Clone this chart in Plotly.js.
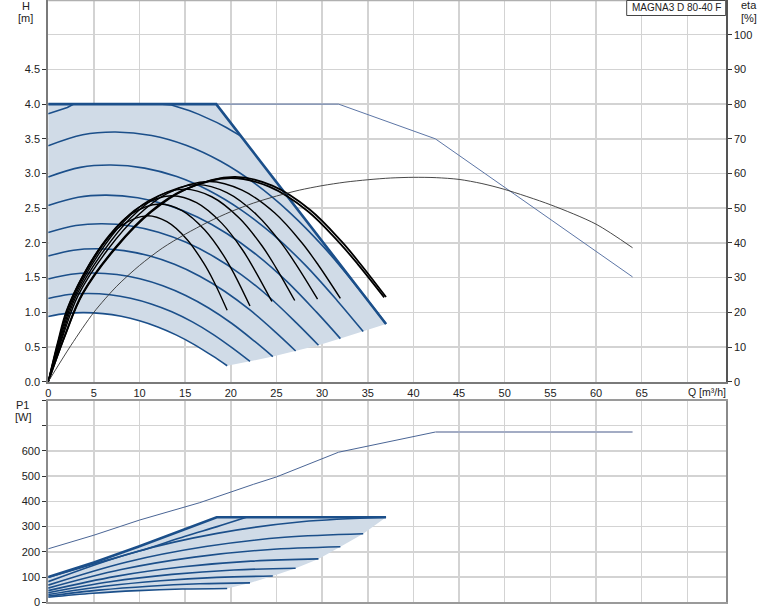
<!DOCTYPE html>
<html><head><meta charset="utf-8">
<script src="https://cdn.plot.ly/plotly-3.0.1.min.js"></script>
<style>html,body{margin:0;padding:0;background:#fff}#chart{width:774px;height:611px}</style>
</head><body><div id="chart"></div>
<script>
// ---------- axis ticks ----------
const xTicks = [0,5,10,15,20,25,30,35,40,45,50,55,60,65,70];
const xTickText = ['0','5','10','15','20','25','30','35','40','45','50','55','60','65',''];
const hTicks = [0,0.5,1,1.5,2,2.5,3,3.5,4,4.5];
const hTickText = ['0.0','0.5','1.0','1.5','2.0','2.5','3.0','3.5','4.0','4.5'];
const etaTicks = [0,10,20,30,40,50,60,70,80,90,100];
const pTicks = [0,100,200,300,400,500,600,700,800];
const pTickText = ['0','100','200','300','400','500','600','',''];

// ---------- H(Q) ----------
const envQ = [0, 18.4, 37.0];
const envH = [4.0, 4.0, 0.832];
const maxLineQ = [0, 31.8, 42.4, 64.0];
const maxLineH = [4.0, 4.0, 3.5, 1.51];

const speedQ = [
 [0,2,3.9,6,8,10,12,14,16,18,19.6],
 [0,2.26,4.4,6.77,9.02,11.28,13.54,15.79,18.05,20.3,22.1],
 [0,2.51,4.89,7.53,10.04,12.55,15.06,17.57,20.08,22.59,24.6],
 [0,2.77,5.39,8.3,11.06,13.83,16.6,19.36,22.13,24.89,27.1],
 [0,3.02,5.89,9.06,12.08,15.1,18.12,21.14,24.16,27.18,29.6],
 [0,3.27,6.37,9.8,13.06,16.33,19.6,22.86,26.13,29.39,32.0],
 [0,3.52,6.86,10.56,14.08,17.6,21.12,24.64,28.16,31.68,34.5],
 [0,3.78,7.36,11.33,15.1,18.88,22.66,26.43,30.21,33.98,37.0]
];
const speedH = [
 [0.94,0.984,0.995,0.981,0.942,0.878,0.789,0.675,0.535,0.371,0.23],
 [1.20,1.257,1.271,1.253,1.203,1.121,1.008,0.862,0.683,0.474,0.294],
 [1.48,1.549,1.566,1.544,1.483,1.382,1.242,1.062,0.842,0.584,0.362],
 [1.81,1.895,1.916,1.889,1.814,1.691,1.520,1.300,1.030,0.715,0.443],
 [2.15,2.250,2.276,2.244,2.154,2.008,1.804,1.544,1.224,0.848,0.526],
 [2.54,2.659,2.688,2.651,2.545,2.372,2.132,1.824,1.446,1.002,0.621],
 [2.95,3.088,3.122,3.078,2.956,2.755,2.476,2.118,1.679,1.164,0.722],
 [3.40,3.559,3.599,3.548,3.407,3.176,2.854,2.441,1.935,1.342,0.832]
];
const topSpeedQ = [0,0.7,1.4,2.1,2.8,12.5,13.5,14.5,15.5,16.5,17.5,18.5,19.5,20.3,21.2];
const topSpeedH = [3.86,3.89,3.92,3.95,4.0,4.0,3.987,3.949,3.905,3.852,3.797,3.733,3.663,3.601,3.531];

// ---------- eta(Q) ----------
const etaMaxQ = [0,2.5,5,7.5,10,12.5,15,17.5,20,22.5,25,27.5,30,32.5,35,37.5,40,42.5,45,47.5,50,55,60,64];
const etaMaxV = [0,10.5,20,27.5,33.5,38.5,42.5,46,49,51.5,53.5,55.2,56.5,57.5,58.2,58.7,58.9,58.8,58.3,57.1,55.4,51.0,45.4,38.6];
const effQ = [
 [0,1,2,4,6,8,10.8,13,15.2,17,18.1,19.6],
 [0,1.13,2.26,4.51,6.77,9.02,12.18,14.66,17.15,19.18,20.42,22.1],
 [0,1.25,2.5,5,7.5,10,13.5,16.25,19,21.25,22.63,24.5],
 [0,1.38,2.76,5.51,8.27,11.02,14.88,17.91,20.95,23.43,24.94,27.0],
 [0,1.51,3.01,6.02,9.03,12.04,16.25,19.57,22.88,25.59,27.24,29.5],
 [0,1.63,3.27,6.53,9.8,13.06,17.64,21.23,24.82,27.76,29.56,32.0],
 [0,1.85,3.7,7.4,11.1,14.8,20.0,24.2,28.4,31.8,33.9,36.8],
 [0,1.89,3.78,7.55,11.33,15.1,20.39,24.54,28.7,32.1,34.17,37.0]
];
const effV = [
 [0,11,20.5,31.6,39.7,45.0,47.8,46.1,41.0,34.3,29.1,20.6],
 [0,11.8,22.0,33.8,42.5,48.2,51.2,49.3,43.7,36.5,30.8,21.8],
 [0,12.3,23.0,35.4,44.5,50.4,53.6,51.6,45.7,38.1,32.1,23.1],
 [0,12.8,23.8,36.7,46.1,52.2,55.5,53.3,47.1,39.1,32.9,23.4],
 [0,13.1,24.4,37.5,47.2,53.4,56.8,54.5,48.0,39.7,33.4,23.8],
 [0,13.3,24.8,38.1,47.9,54.3,57.7,55.2,48.6,40.1,33.7,24.0],
 [0,13.5,25.2,38.8,48.8,55.2,58.7,56.2,49.2,40.3,33.9,24.3],
 [0,13.6,25.3,39.0,49.0,55.5,59.0,56.5,49.5,40.5,34.0,24.4]
];

// ---------- P1(Q) ----------
const envPQ = [0,5,10,15,18.45,37.0];
const envPV = [100,158,222,290,337,337];
const powQ = [
 [0,4.9,9.8,14.7,19.6],
 [0,5.53,11.05,16.58,22.1],
 [0,6.15,12.3,18.45,24.6],
 [0,6.78,13.55,20.33,27.1],
 [0,7.4,14.8,22.2,29.6],
 [0,8,16,24,32],
 [0,8.63,17.25,25.88,34.5],
 [0,9.25,18.5,27.75,37],
 [0,5,10,15,18.5,21.7]
];
const powV = [
 [20,35.8,46.3,52.6,55],
 [24.7,48.2,63.9,73.3,77],
 [30.6,63.6,85.7,98.9,104],
 [37.8,81.5,110.7,128.2,135],
 [46.4,102.9,140.6,163.2,172],
 [56.2,129.9,179.1,208.5,220],
 [68.1,159.9,221,257.7,272],
 [81.9,196.7,273.2,319.1,337],
 [99,152,203,262,300,337]
];
const p1LineQ = [0,5,10,16.6,22.5,25,31.8,42.4];
const p1LineV = [212,266,326,395,468,497,595,675];
const p1FlatQ = [42.4,64.0];
const p1FlatV = [675,675];

// ---------- styling ----------
const BLUE = '#1b4f8a';
const FILL = '#d0dbe7';
const GRID = '#d3d3d3';
const FONT = 'Liberation Sans, Arial, sans-serif';
const W = 774, H = 611;
const px = v => v / W, py = v => 1 - v / H;

const traces = [];
// shaded H region
(function(){
  const n = speedQ.length;
  let qx = envQ.slice(), hy = envH.slice();
  for (let i = n - 2; i >= 0; i--) { const q = speedQ[i], h = speedH[i]; qx.push(q[q.length-1]); hy.push(h[h.length-1]); }
  const q0 = speedQ[0], h0 = speedH[0];
  for (let j = q0.length - 2; j >= 0; j--) { qx.push(q0[j]); hy.push(h0[j]); }
  traces.push({x: qx, y: hy, xaxis:'x', yaxis:'y', mode:'lines', fill:'toself', fillcolor: FILL, line:{width:0, color:FILL}, hoverinfo:'skip'});
})();
// shaded P region
(function(){
  let qx = envPQ.slice(), vy = envPV.slice();
  for (let i = 6; i >= 0; i--) { const q = powQ[i], v = powV[i]; qx.push(q[q.length-1]); vy.push(v[v.length-1]); }
  const q0 = powQ[0], v0 = powV[0];
  for (let j = q0.length - 2; j >= 0; j--) { qx.push(q0[j]); vy.push(v0[j]); }
  traces.push({x: qx, y: vy, xaxis:'x2', yaxis:'y3', mode:'lines', fill:'toself', fillcolor: FILL, line:{width:0, color:FILL}, hoverinfo:'skip'});
})();
// speed curves
speedQ.forEach((q, i) => traces.push({x:q, y:speedH[i], xaxis:'x', yaxis:'y', mode:'lines', line:{color:BLUE, width:1.6, shape:'spline'}, hoverinfo:'skip'}));
traces.push({x:topSpeedQ, y:topSpeedH, xaxis:'x', yaxis:'y', mode:'lines', line:{color:BLUE, width:1.6}, hoverinfo:'skip'});
// thin max line
traces.push({x:maxLineQ, y:maxLineH, xaxis:'x', yaxis:'y', mode:'lines', line:{color:'#5d76a6', width:1}, hoverinfo:'skip'});
// envelope
traces.push({x:envQ, y:envH, xaxis:'x', yaxis:'y', mode:'lines', line:{color:BLUE, width:2.6}, hoverinfo:'skip'});
// efficiency curves
effQ.forEach((q, i) => traces.push({x:q, y:effV[i], xaxis:'x', yaxis:'y2', mode:'lines', line:{color:'#000', width: i >= effQ.length-2 ? 1.8 : 1.4, shape:'spline'}, hoverinfo:'skip'}));
traces.push({x:etaMaxQ, y:etaMaxV, xaxis:'x', yaxis:'y2', mode:'lines', line:{color:'#333', width:0.9, shape:'spline', smoothing:0.8}, hoverinfo:'skip'});
// power curves
powQ.forEach((q, i) => traces.push({x:q, y:powV[i], xaxis:'x2', yaxis:'y3', mode:'lines', line:{color:BLUE, width:1.6, shape:'spline'}, hoverinfo:'skip'}));
traces.push({x:envPQ, y:envPV, xaxis:'x2', yaxis:'y3', mode:'lines', line:{color:BLUE, width:2.6}, hoverinfo:'skip'});
traces.push({x:p1LineQ, y:p1LineV, xaxis:'x2', yaxis:'y3', mode:'lines', line:{color:'#4a6595', width:1}, hoverinfo:'skip'});
traces.push({x:p1FlatQ, y:p1FlatV, xaxis:'x2', yaxis:'y3', mode:'lines', line:{color:'#a3acc4', width:2}, hoverinfo:'skip'});

const xDom = [px(48.2), px(725.7)];
const tickFont = {family: FONT, size: 11, color: '#222'};
const layout = {
  width: W, height: H, margin:{l:0,r:0,t:0,b:0}, showlegend:false,
  paper_bgcolor:'#fff', plot_bgcolor:'#fff', font:{family:FONT, size:11, color:'#222'},
  xaxis:{domain:xDom, anchor:'y', range:[0,74.2], tickvals:xTicks, ticktext:xTickText, ticks:'', showgrid:true, gridcolor:GRID, gridwidth:1.5, zeroline:false, showline:true, linecolor:'#7a7a7a', linewidth:2, tickfont:tickFont, fixedrange:true},
  yaxis:{domain:[py(381.7), 1], anchor:'x', range:[0,5.5], tickvals:hTicks, ticktext:hTickText, ticks:'outside', ticklen:4, tickcolor:'#333', showgrid:true, gridcolor:GRID, gridwidth:1.5, zeroline:false, showline:true, linecolor:'#7a7a7a', linewidth:2, tickfont:tickFont, fixedrange:true},
  yaxis2:{overlaying:'y', anchor:'x', side:'right', range:[0,110], tickvals:etaTicks, ticks:'outside', ticklen:4, tickcolor:'#333', showgrid:true, gridcolor:GRID, gridwidth:1.5, zeroline:false, showline:true, linecolor:'#555', linewidth:2, tickfont:tickFont, fixedrange:true},
  xaxis2:{domain:xDom, anchor:'y3', range:[0,74.2], tickvals:xTicks, showticklabels:false, ticks:'', showgrid:true, gridcolor:GRID, gridwidth:1.5, zeroline:false, showline:true, mirror:true, linecolor:'#9a9a9a', linewidth:2, fixedrange:true},
  yaxis3:{domain:[py(602.3), py(400.5)], anchor:'x2', range:[0,800], tickvals:pTicks, ticktext:pTickText, ticks:'outside', ticklen:4, tickcolor:'#333', showgrid:true, gridcolor:GRID, gridwidth:1.5, zeroline:false, showline:true, mirror:true, linecolor:'#8a8a8a', linewidth:2, tickfont:tickFont, fixedrange:true},
  shapes:[
    {type:'line', xref:'paper', yref:'paper', x0:xDom[0], x1:xDom[1], y0:py(0.5), y1:py(0.5), line:{color:'#b0b0b0', width:1.5}},
    {type:'rect', xref:'paper', yref:'paper', x0:px(626.7), x1:px(725.7), y0:py(15.5), y1:py(0.5), line:{color:'#444', width:1}, fillcolor:'#fff'}
  ],
  annotations:[
    {xref:'paper', yref:'paper', x:px(25.5), y:py(6), text:'H', showarrow:false, xanchor:'center', yanchor:'middle', font:{family:FONT,size:11,color:'#222'}},
    {xref:'paper', yref:'paper', x:px(25.5), y:py(17.5), text:'[m]', showarrow:false, xanchor:'center', yanchor:'middle', font:{family:FONT,size:11,color:'#222'}},
    {xref:'paper', yref:'paper', x:px(749.3), y:py(5.5), text:'eta', showarrow:false, xanchor:'center', yanchor:'middle', font:{family:FONT,size:11,color:'#222'}},
    {xref:'paper', yref:'paper', x:px(749.3), y:py(17.5), text:'[%]', showarrow:false, xanchor:'center', yanchor:'middle', font:{family:FONT,size:11,color:'#222'}},
    {xref:'paper', yref:'paper', x:px(22.7), y:py(405), text:'P1', showarrow:false, xanchor:'center', yanchor:'middle', font:{family:FONT,size:11,color:'#222'}},
    {xref:'paper', yref:'paper', x:px(23.3), y:py(417), text:'[W]', showarrow:false, xanchor:'center', yanchor:'middle', font:{family:FONT,size:11,color:'#222'}},
    {xref:'x', yref:'paper', x:70, y:py(392), text:'Q [m³/h]', showarrow:false, xanchor:'left', yanchor:'middle', xshift:-1, font:{family:FONT,size:10.5,color:'#222'}},
    {xref:'paper', yref:'paper', x:px(676.2), y:py(8), text:'MAGNA3 D 80-40 F', showarrow:false, xanchor:'center', yanchor:'middle', font:{family:FONT,size:10,color:'#222'}}
  ]
};
Plotly.newPlot('chart', traces, layout, {staticPlot:true, displayModeBar:false});
</script></body></html>
